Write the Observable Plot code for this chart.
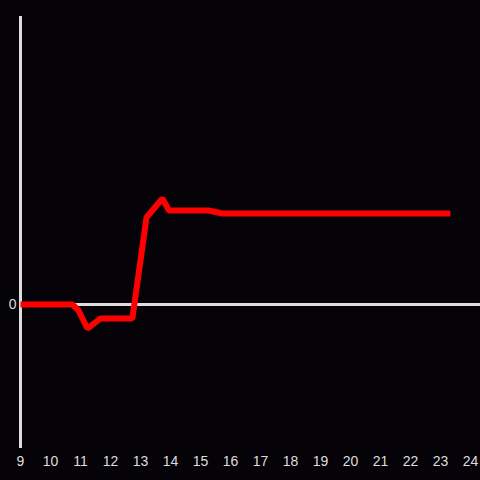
<!DOCTYPE html>
<html>
<head>
<meta charset="utf-8">
<script src="https://cdn.jsdelivr.net/npm/d3@7"></script>
<script src="https://cdn.jsdelivr.net/npm/@observablehq/plot@0.6"></script>
<style>
  html, body { margin: 0; padding: 0; background: #050308; }
  #chart svg { display: block; }
  #chart svg text { font-size: 14px; font-family: "Liberation Sans", Arial, sans-serif; }
</style>
</head>
<body>
<div id="chart"></div>
<script>
const hours  = [9, 10.73, 10.93, 11.23, 11.67, 12.73, 13.2, 13.73, 13.95, 15.27, 15.73, 23.33];
const values = [0, 0, -0.04, -0.167, -0.097, -0.097, 0.604, 0.736, 0.653, 0.653, 0.632, 0.632];
const xTicks = [9, 10, 11, 12, 13, 14, 15, 16, 17, 18, 19, 20, 21, 22, 23, 24];
const yTicks = [0];

const data = hours.map((h, i) => ({hour: h, value: values[i]}));

const chart = Plot.plot({
  width: 480,
  height: 480,
  marginLeft: 20,
  marginRight: 0,
  marginTop: 16,
  marginBottom: 32,
  style: {background: "#050308", color: "#dddddd", fontFamily: "Liberation Sans, Arial, sans-serif", fontSize: "14px"},
  x: {domain: [9, 24], range: [20, 470]},
  y: {domain: [-1, 2]},
  marks: [
    Plot.axisX(xTicks, {tickSize: 0, tickPadding: 8, label: null, tickFormat: d => String(d), fontSize: 14, fill: "#dddddd"}),
    Plot.axisY(yTicks, {tickSize: 0, tickPadding: 4, label: null, tickFormat: d => String(d), fontSize: 14, fill: "#dddddd"}),
    Plot.ruleY([0], {stroke: "#dddddd", strokeWidth: 3}),
    Plot.ruleX([9], {y1: -1, y2: 2, stroke: "#dddddd", strokeWidth: 3}),
    Plot.line(data, {x: "hour", y: "value", stroke: "#ff0000", strokeWidth: 6, strokeLinejoin: "miter", strokeLinecap: "butt"})
  ]
});
document.getElementById("chart").appendChild(chart);
</script>
</body>
</html>
